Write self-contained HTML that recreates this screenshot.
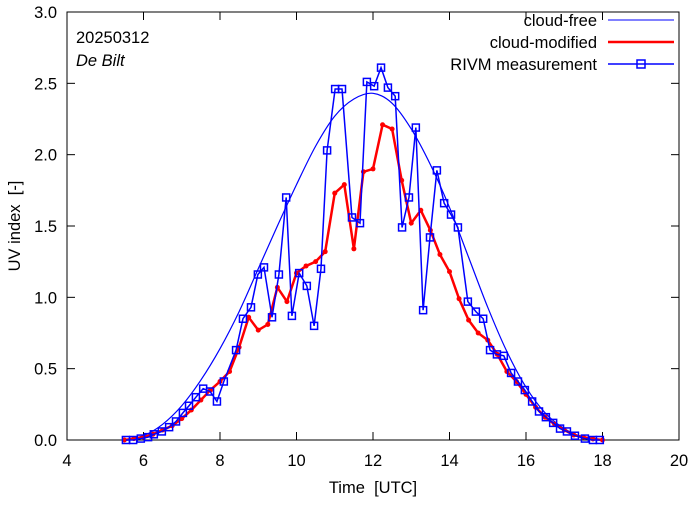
<!DOCTYPE html>
<html><head><meta charset="utf-8"><style>
body{margin:0;background:#fff}
svg text{font-family:"Liberation Sans",sans-serif;font-size:16.5px;fill:#000}
</style></head><body>
<svg id="c" width="694" height="501">
<rect x="67" y="12" width="612" height="428" fill="none" stroke="#000" stroke-width="1"/>
<g id="ax"></g>
<text x="76" y="43">20250312</text>
<text x="76" y="66" font-style="italic">De Bilt</text>
<text x="373" y="493" text-anchor="middle">Time&#160;&#160;[UTC]</text>
<text transform="translate(20,226) rotate(-90)" text-anchor="middle">UV index&#160;&#160;[-]</text>
<g>
<text x="597" y="26" text-anchor="end">cloud-free</text>
<line x1="608" y1="20" x2="674" y2="20" stroke="#0000ff" stroke-width="1"/>
<text x="597" y="48" text-anchor="end">cloud-modified</text>
<line x1="608" y1="42" x2="674" y2="42" stroke="#ff0000" stroke-width="2.5"/>
<text x="597" y="70" text-anchor="end">RIVM measurement</text>
<line x1="608" y1="64" x2="674" y2="64" stroke="#0000ff" stroke-width="1.5"/>
<rect x="637" y="60" width="8" height="8" fill="none" stroke="#0000ff" stroke-width="1.5"/>
</g>
<g id="series"></g>
</svg>
<script>
const xTicks=[4,6,8,10,12,14,16,18,20];
const yTicks=[0,0.5,1.0,1.5,2.0,2.5,3.0];
const freeT=[5.5,6,6.5,7,7.5,8,8.5,9,9.5,10,10.5,11,11.5,12,12.5,13,13.5,14,14.5,15,15.5,16,16.5,17,17.5,18];
const freeV=[0,0.03,0.11,0.24,0.42,0.64,0.9,1.2,1.5,1.79,2.06,2.27,2.39,2.43,2.36,2.18,1.93,1.63,1.28,0.93,0.62,0.37,0.19,0.08,0.02,0];
const modT=[5.5,5.75,6,6.25,6.5,6.75,7,7.25,7.5,7.75,8,8.25,8.5,8.75,9,9.25,9.5,9.75,10,10.25,10.5,10.75,11,11.25,11.5,11.75,12,12.25,12.5,12.75,13,13.25,13.5,13.75,14,14.25,14.5,14.75,15,15.25,15.5,15.75,16,16.25,16.5,16.75,17,17.25,17.5,17.75,18];
const modV=[0,0.01,0.02,0.04,0.07,0.1,0.15,0.21,0.28,0.35,0.41,0.48,0.65,0.86,0.77,0.81,1.07,0.97,1.17,1.22,1.25,1.32,1.73,1.79,1.34,1.88,1.90,2.21,2.18,1.82,1.52,1.61,1.47,1.30,1.18,0.99,0.84,0.75,0.70,0.60,0.48,0.41,0.32,0.23,0.16,0.11,0.07,0.035,0.02,0.007,0];
const measT=[5.54,5.73,5.93,6.12,6.27,6.48,6.67,6.85,7.03,7.19,7.37,7.56,7.74,7.92,8.10,8.42,8.60,8.81,8.99,9.15,9.36,9.54,9.73,9.88,10.07,10.27,10.46,10.64,10.80,11.01,11.19,11.45,11.66,11.84,12.03,12.21,12.39,12.58,12.76,12.94,13.12,13.31,13.49,13.67,13.86,14.04,14.22,14.48,14.69,14.88,15.06,15.24,15.42,15.61,15.79,15.97,16.16,16.34,16.52,16.71,16.89,17.07,17.28,17.54,17.75,17.93];
const measV=[0,0,0.01,0.02,0.04,0.06,0.09,0.13,0.19,0.24,0.30,0.36,0.34,0.27,0.41,0.63,0.85,0.93,1.16,1.21,0.86,1.16,1.70,0.87,1.17,1.08,0.80,1.20,2.03,2.46,2.46,1.56,1.52,2.51,2.48,2.61,2.47,2.41,1.49,1.70,2.19,0.91,1.42,1.89,1.66,1.58,1.49,0.97,0.90,0.85,0.63,0.60,0.59,0.47,0.41,0.35,0.27,0.20,0.16,0.12,0.08,0.06,0.03,0.01,0,0];

const NS="http://www.w3.org/2000/svg";
const X=t=>67+(t-4)*612/16, Y=v=>440-v*428/3;
const ax=document.getElementById('ax'), sg=document.getElementById('series');
function mk(tag,attrs,parent){const e=document.createElementNS(NS,tag);for(const k in attrs)e.setAttribute(k,attrs[k]);parent.appendChild(e);return e;}
xTicks.forEach(t=>{
  const l=mk('line',{x1:X(t),x2:X(t),y1:440,y2:432,stroke:'#000'},ax);
  
  
  const l2=mk('line',{x1:X(t),x2:X(t),y1:12,y2:20,stroke:'#000'},ax);
  
  
  const tx=mk('text',{x:X(t),y:466,'text-anchor':'middle'},ax);tx.textContent=t;
  
  
});
yTicks.forEach(v=>{
  const l=mk('line',{x1:67,x2:75,y1:Y(v),y2:Y(v),stroke:'#000'},ax);
  
  
  const l2=mk('line',{x1:671,x2:679,y1:Y(v),y2:Y(v),stroke:'#000'},ax);
  
  
  const tx=mk('text',{x:57,y:Y(v)+6,'text-anchor':'end'},ax);tx.textContent=v.toFixed(1);
  
  
});
let d='';
const P=freeT.map((t,i)=>[X(t),Y(freeV[i])]);
d='M'+P[0][0]+','+P[0][1];
for(let i=0;i<P.length-1;i++){
  const p0=P[Math.max(0,i-1)],p1=P[i],p2=P[i+1],p3=P[Math.min(P.length-1,i+2)];
  const c1=[p1[0]+(p2[0]-p0[0])/6,p1[1]+(p2[1]-p0[1])/6],c2=[p2[0]-(p3[0]-p1[0])/6,p2[1]-(p3[1]-p1[1])/6];
  d+=` C${c1[0]},${c1[1]} ${c2[0]},${c2[1]} ${p2[0]},${p2[1]}`;
}
const fp=mk('path',{d:d,fill:'none',stroke:'#0000ff','stroke-width':1.2},sg);


const mp=mk('polyline',{points:modT.map((t,i)=>X(t)+','+Y(modV[i])).join(' '),fill:'none',stroke:'#ff0000','stroke-width':2.5},sg);


modT.forEach((t,i)=>{
  const c=mk('circle',{cx:X(t),cy:Y(modV[i]),r:2.5,fill:'#ff0000'},sg);
  
  
});
const rp=mk('polyline',{points:measT.map((t,i)=>X(t)+','+Y(measV[i])).join(' '),fill:'none',stroke:'#0000ff','stroke-width':1.5},sg);


measT.forEach((t,i)=>{
  const r=mk('rect',{x:X(t)-3.5,y:Y(measV[i])-3.5,width:7,height:7,fill:'none',stroke:'#0000ff','stroke-width':1.5},sg);
  
  
});
</script>
</body></html>
